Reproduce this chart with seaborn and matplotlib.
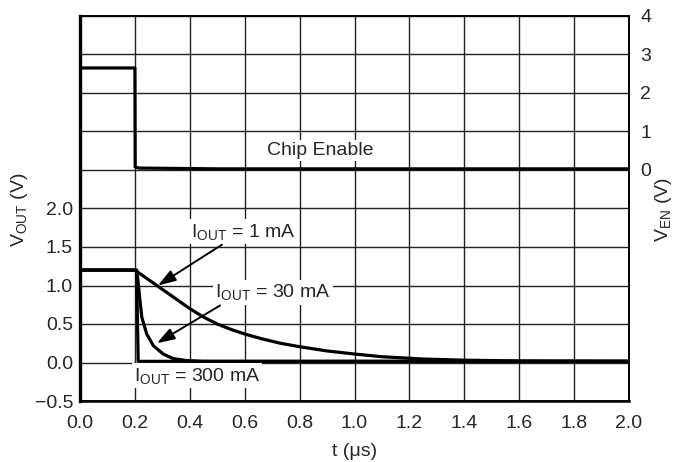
import numpy as np
import pandas as pd
import matplotlib
matplotlib.use("Agg")
import matplotlib.pyplot as plt
import seaborn as sns

# ----------------------------------------------------------------------------------
# Data (read off the scope capture)
# ----------------------------------------------------------------------------------
t_en = [0.0, 0.2, 0.201, 0.215, 0.5, 1.0, 1.5, 2.0]
v_en = [2.65, 2.65, 0.08, 0.05, 0.03, 0.03, 0.03, 0.03]

t_1ma = [0.0, 0.2, 0.25, 0.3, 0.35, 0.4, 0.45, 0.5, 0.55, 0.6, 0.66, 0.73, 0.8, 0.9, 1.0,
         1.1, 1.25, 1.4, 1.6, 2.0]
v_1ma = [1.2, 1.2, 1.075, 0.95, 0.825, 0.70, 0.59, 0.5, 0.43, 0.37, 0.31, 0.25, 0.205, 0.15, 0.11,
         0.075, 0.045, 0.03, 0.02, 0.017]

t_30ma = [0.0, 0.2, 0.206, 0.21, 0.216, 0.225, 0.243, 0.267, 0.303, 0.34, 0.389, 0.45, 2.0]
v_30ma = [1.2, 1.2, 1.2, 1.1, 0.89, 0.59, 0.37, 0.22, 0.11, 0.05, 0.025, 0.015, 0.015]

t_300ma = [0.0, 0.2, 0.206, 0.212, 0.3, 2.0]
v_300ma = [1.2, 1.2, 1.2, 0.015, 0.015, 0.015]

x_ticks = [0.0, 0.2, 0.4, 0.6, 0.8, 1.0, 1.2, 1.4, 1.6, 1.8, 2.0]
vout_ticks = [-0.5, 0.0, 0.5, 1.0, 1.5, 2.0]
ven_ticks = [0, 1, 2, 3, 4]

# ----------------------------------------------------------------------------------
# Style
# ----------------------------------------------------------------------------------
sns.set_theme(style="white")
plt.rcParams["font.family"] = ["Liberation Sans", "DejaVu Sans"]
plt.rcParams["mathtext.fontset"] = "custom"
plt.rcParams["mathtext.rm"] = "Liberation Sans"
plt.rcParams["mathtext.it"] = "Liberation Sans"
plt.rcParams["mathtext.default"] = "regular"

FS = 14
LW = 2.3

fig = plt.figure(figsize=(6.78, 4.62), dpi=100)
ax = fig.add_axes([80 / 678, 61 / 462, 549 / 678, 385 / 462])
ax2 = ax.twinx()

# grid on left axis, 0.5 V steps over full height
grid_y = [-0.5 + 0.5 * i for i in range(11)]
ax.set_xlim(0, 2.0)
ax.set_ylim(-0.5, 4.5)
ax.set_xticks(x_ticks)
ax.set_xticklabels([f"{v:.1f}" for v in x_ticks], fontsize=FS)
ax.set_yticks(grid_y)
ax.set_yticklabels([(f"{v:.1f}".replace("-", "\u2212") if v in vout_ticks else "") for v in grid_y], fontsize=FS)
ax.grid(True, color="#222222", linewidth=1.0)
ax.tick_params(axis="y", length=0, pad=5)
ax.tick_params(axis="x", length=0, pad=10)
ax.set_axisbelow(True)

curves = pd.concat([
    pd.DataFrame({"t": t_1ma, "v": v_1ma, "load": "1 mA"}),
    pd.DataFrame({"t": t_30ma, "v": v_30ma, "load": "30 mA"}),
    pd.DataFrame({"t": t_300ma, "v": v_300ma, "load": "300 mA"}),
])
sns.lineplot(data=curves, x="t", y="v", units="load", estimator=None,
             color="black", linewidth=LW, sort=False, ax=ax, legend=False)

ax2.set_ylim(-6, 4)
ax2.set_yticks(ven_ticks)
ax2.set_yticklabels([str(v) for v in ven_ticks], fontsize=FS)
ax2.tick_params(length=0, pad=8)
sns.lineplot(x=t_en, y=v_en, color="black", linewidth=LW, sort=False, ax=ax2)

for a in (ax, ax2):
    for s in a.spines.values():
        s.set_color("black")
        s.set_linewidth(1.2)
ax.spines["left"].set_linewidth(2.4)
ax.spines["bottom"].set_linewidth(1.8)

ax.set_xlabel("t (\u03bcs)", fontsize=FS, labelpad=8)
ax.set_ylabel("")
ax2.set_ylabel("")
fig.text(20 / 678, 1 - 210 / 462, "V$_{OUT}$ (V)", rotation=90, fontsize=FS, ha="center", va="center")
fig.text(664 / 678, 1 - 210 / 462, "V$_{EN}$ (V)", rotation=90, fontsize=FS, ha="center", va="center")

box = dict(facecolor="white", edgecolor="none", pad=1.5)
ax2.text(0.875, 0.5, "Chip Enable", fontsize=FS, ha="center", va="center", bbox=box)

arrow = dict(arrowstyle="-|>,head_length=0.9,head_width=0.3", color="black", lw=1.4, shrinkA=0, shrinkB=0)
ax.text(0.594, 1.70, "I$_{OUT}$ = 1 mA", fontsize=FS, ha="center", va="center", bbox=box)
ax.annotate("", xy=(0.284, 1.0), xytext=(0.517, 1.53), arrowprops=arrow)
ax.text(0.703, 0.91, "I$_{OUT}$ = 30 mA", fontsize=FS, ha="center", va="center", bbox=box)
ax.annotate("", xy=(0.28, 0.25), xytext=(0.51, 0.74), arrowprops=arrow)
ax.text(0.426, -0.17, "I$_{OUT}$ = 300 mA", fontsize=FS, ha="center", va="center", bbox=box)

fig.savefig("out.png", dpi=100)
plt.close(fig)
